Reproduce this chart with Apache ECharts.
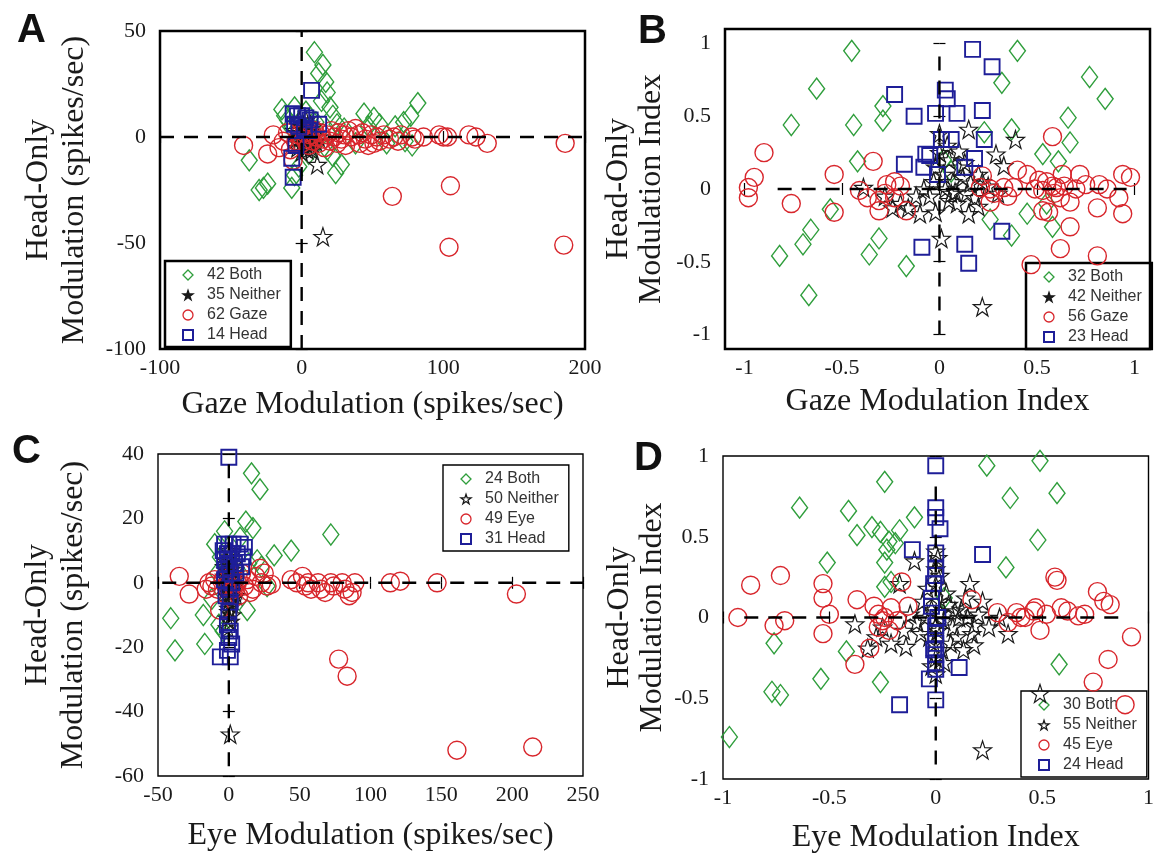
<!DOCTYPE html>
<html>
<head>
<meta charset="utf-8">
<script src="https://cdn.jsdelivr.net/npm/echarts@6/dist/echarts.min.js"></script>
<style>
html,body{margin:0;padding:0;background:#fff;}
#chart{width:1157px;height:857px;}
</style>
</head>
<body>
<div id="chart"></div>
<script>
// ---------- Panel A : Gaze vs Head-only modulation (spikes/sec) ----------
const aBoth = [[9,40],[15,34],[12,30],[17,26],[18,21],[14,17],[20,14],[-14,13],[-12,10],[-10,8],[-8,5],[-5,14],[3,12],[6,9],[10,7],[22,10],[25,6],[30,4],[44,11],[51,9],[47,5],[55,6],[66,5],[72,7],[77,10],[82,16],[78,-4],[73,-2],[60,-3],[38,-3],[-37,-11],[-27,-24],[-24,-22],[-30,-25],[-7,-24],[-5,-18],[24,-17],[22,-9],[18,-6],[-2,-14],[28,-13],[5,-8]];
const aNeither = [[11,-13],[15,-47],[0,2],[1,-1],[2,3],[-1,0],[3,-2],[4,1],[-2,-3],[5,4],[6,-1],[-3,2],[7,2],[8,-3],[2,-5],[-4,-1],[1,6],[3,8],[-1,5],[4,-6],[6,6],[0,-7],[9,1],[10,-2],[-5,3],[2,0],[5,-4],[7,-6],[-2,8],[8,5],[1,-3],[3,4],[-3,-5],[6,2],[12,0]];
const aGaze = [[-41,-4],[-24,-8],[-20,1],[-16,-5],[-13,-2],[-10,2],[-8,-6],[-6,-11],[-4,-2],[-2,1],[0,-3],[2,2],[3,-1],[5,-4],[6,1],[8,-2],[9,3],[10,0],[12,-3],[13,2],[15,-1],[16,-5],[18,1],[20,-2],[21,3],[23,0],[25,-3],[26,2],[28,-1],[30,1],[31,-4],[33,3],[35,0],[38,4],[40,1],[41,-3],[43,2],[45,-1],[47,-4],[49,1],[51,-3],[53,0],[55,-2],[58,1],[62,-1],[64,-28],[65,0],[68,-2],[70,1],[78,0],[80,-1],[86,0],[97,1],[100,0],[103,0],[105,-23],[104,-52],[118,1],[123,0],[131,-3],[186,-3],[185,-51]];
const aHead = [[7,22],[-6,11],[-3,10],[0,10],[3,9],[6,8],[-5,6],[-2,5],[2,4],[5,3],[12,6],[-4,-4],[-7,-10],[-6,-19]];
const aZeroH = [-100, 200];   // horizontal dashed line extent (x)
const aZeroV = [-100, 50];    // vertical dashed line extent (y)

// ---------- Panel B : Gaze vs Head-only modulation index ----------
const bBoth = [[-0.45,0.95],[-0.63,0.69],[-0.76,0.44],[-0.44,0.44],[-0.29,0.57],[-0.29,0.47],[-0.42,0.19],[0.4,0.95],[0.32,0.73],[0.77,0.77],[0.85,0.62],[0.66,0.49],[0.67,0.32],[0.53,0.24],[0.37,0.41],[0.23,0.39],[-0.56,-0.14],[-0.66,-0.28],[-0.70,-0.38],[-0.82,-0.46],[-0.31,-0.34],[-0.36,-0.45],[-0.17,-0.53],[-0.67,-0.73],[0.26,-0.21],[0.37,-0.32],[0.45,-0.17],[0.58,-0.26],[0.55,-0.1],[0.61,0.19],[0.02,0.2],[0.06,0.12]];
const bNeither = [[0.15,0.41],[0.39,0.34],[0.29,0.24],[0.33,0.16],[-0.39,0.01],[-0.16,-0.13],[-0.1,-0.17],[-0.02,-0.16],[0.15,-0.17],[0.01,-0.34],[0.22,-0.81],[0,0.38],[-0.2,-0.1],[-0.12,-0.05],[0.09,-0.1],[0.14,-0.03],[0.25,0.02],[0.05,0.2],[0.1,0.15],[0.02,0.1],[0.07,0.05],[0.12,0.08],[0.03,0],[-0.03,0.05],[0.08,-0.02],[0.16,0.04],[0.2,0.1],[-0.05,-0.05],[0,0.25],[0.1,0.26],[0.18,-0.06],[-0.08,0],[0.05,-0.08],[0.2,-0.12],[-0.24,-0.13],[0.04,0.3],[0.13,0.18],[-0.02,0.15],[0.22,0.05],[0.06,-0.03],[-0.28,-0.05],[0.3,-0.03]];
const bGaze = [[-0.98,0.01],[-0.98,-0.06],[-0.95,0.08],[-0.9,0.25],[-0.76,-0.1],[-0.54,-0.16],[-0.54,0.1],[-0.34,0.19],[-0.41,-0.01],[-0.37,-0.06],[-0.31,-0.15],[-0.27,0.03],[-0.23,0.05],[-0.31,-0.08],[-0.28,-0.03],[-0.17,-0.15],[-0.23,-0.06],[0.22,0.09],[0.21,0.01],[0.26,0],[0.26,-0.09],[0.33,0.01],[0.4,0.13],[0.38,0.01],[0.58,0.36],[0.51,0.06],[0.49,0],[0.53,-0.01],[0.58,0.02],[0.59,-0.03],[0.63,0.1],[0.62,-0.06],[0.67,-0.09],[0.72,0.1],[0.75,0.03],[0.82,0.03],[0.81,-0.13],[0.92,-0.06],[0.94,-0.17],[0.94,0.1],[0.98,0.08],[0.67,-0.26],[0.62,-0.41],[0.81,-0.46],[0.47,-0.52],[0.56,-0.16],[0.53,-0.15],[0.6,0.01],[0.45,0.1],[0.28,-0.03],[0.55,0.05],[0.64,0.02],[0.7,0],[0.86,0],[-0.2,0.02],[0.35,-0.05]];
const bHead = [[0.17,0.96],[0.27,0.84],[-0.23,0.65],[0.03,0.68],[0.04,0.62],[-0.13,0.5],[-0.02,0.52],[0.09,0.52],[0.22,0.54],[0.01,0.34],[0.06,0.34],[0.23,0.34],[-0.18,0.17],[-0.07,0.24],[-0.08,0.15],[-0.01,0.1],[0.13,0.15],[0.18,0.21],[0.32,-0.29],[-0.09,-0.4],[0.13,-0.38],[0.15,-0.51],[-0.05,0.23]];
const bZeroH = [-0.83, 0.96];
const bZeroV = [-1.0, 0.93];

// ---------- Panel C : Eye vs Head-only modulation (spikes/sec) ----------
const cBoth = [[16,34],[22,29],[12,19],[17,17],[-10,12],[-6,8],[-3,16],[32,8.5],[44,10],[72,15],[-41,-11],[-38,-21],[-18,-10],[-17,-19],[13,-8.5],[-7,-13],[20,7],[23,5],[27,-1],[-8,3],[8,14],[14,6],[-12,-5],[-4,-15]];
const cNeither = [[1,-47],[0,-9],[2,-10],[-1,-11],[1,-12],[0,-8],[-1,-14],[0,0],[1,2],[-1,1],[2,-1],[3,3],[-2,-2],[0,4],[4,1],[-3,2],[1,-3],[2,5],[5,-2],[-1,6],[3,-4],[0,8],[-2,4],[4,4],[1,-5],[-3,-1],[2,1],[5,2],[0,-2],[-1,3],[3,0],[1,7],[-2,0],[4,-1],[2,-3],[0,2],[1,4],[3,6],[-1,-4],[2,9],[0,-6],[4,3],[-3,5],[1,1],[5,-4],[-2,7],[3,-2],[0,10],[2,-6],[-1,-1]];
const cEye = [[-35,2],[-28,-3.5],[-14,0],[-12,-1],[-10,1],[-8,-2],[-6.5,-8.5],[-4,1],[-2,-1],[2,2],[4,-2],[6,0],[9,3],[11,-1],[13,1],[15,-3],[17,-2],[19,2],[22,4.5],[23,0],[27,-1],[30,-0.5],[44,1],[48,0],[52,2],[54,-1],[56,0],[58,-2],[63,0],[65,-2],[68,-3],[72,0],[74,-1],[80,0],[82,-2],[85,-4],[87,-3],[89,0],[114,0],[121,0.5],[147,0],[203,-3.5],[77.5,-23.7],[83.5,-29],[161,-52],[214.5,-51],[-16,-2],[7,-4],[25,3]];
const cHead = [[0,39],[-3,12],[0,12],[3,12],[8,12],[11,11],[-4,10],[-1,9],[2,9],[6,9],[10,8],[-3,7],[0,6],[4,6],[9,5],[-2,4],[1,3],[5,3],[-3,1],[2,0],[0,-2],[-2,-4],[1,-6],[0,-9],[-1,-13],[1,-15],[0,-17],[2,-19],[-6,-23],[1,-23],[-1,-21]];
const cZeroH = [-47, 250];
const cZeroV = [-57, 40];

// ---------- Panel D : Eye vs Head-only modulation index ----------
const dBoth = [[-0.97,-0.74],[-0.64,0.68],[-0.41,0.66],[-0.37,0.51],[-0.30,0.56],[-0.26,0.53],[-0.24,0.84],[-0.10,0.62],[-0.17,0.54],[-0.22,0.47],[-0.23,0.42],[-0.24,0.34],[-0.24,0.19],[-0.51,0.34],[-0.76,-0.16],[-0.77,-0.46],[-0.73,-0.48],[-0.54,-0.38],[-0.42,-0.21],[-0.26,-0.40],[0.24,0.94],[0.49,0.97],[0.35,0.74],[0.57,0.77],[0.48,0.48],[0.33,0.31],[0.58,-0.29],[0.04,0.12],[-0.21,0.22],[-0.19,0.46]];
const dNeither = [[-0.10,0.35],[-0.17,0.21],[0.16,0.21],[-0.38,-0.04],[-0.32,-0.19],[-0.21,-0.16],[-0.14,-0.18],[0.18,-0.17],[0.34,-0.10],[0.49,-0.47],[0.22,-0.82],[0,0.41],[0.15,0],[0.18,-0.05],[0.09,0.04],[-0.09,-0.03],[0,-0.35],[0,0.3],[0,0.2],[0.02,0.1],[-0.02,0.05],[0.04,-0.02],[0.01,-0.08],[-0.03,-0.12],[0.03,-0.2],[0,-0.25],[0.06,0.08],[-0.05,0],[0.08,-0.06],[0.12,0.05],[0.2,0.02],[0.25,-0.06],[-0.12,0.02],[-0.15,-0.08],[-0.07,-0.1],[0.1,-0.12],[0.14,0.12],[0.05,0.15],[-0.04,0.18],[0.02,0.26],[0,-0.05],[0.02,0.03],[-0.01,-0.16],[0.01,0.37],[-0.02,-0.3],[0.22,0.1],[0.3,0],[-0.25,-0.06],[-0.28,-0.12],[0.07,-0.16],[0.11,0],[-0.06,0.1],[0.04,-0.28],[0.17,-0.1],[0.13,-0.2]];
const dEye = [[-0.93,0],[-0.87,0.2],[-0.73,0.26],[-0.76,-0.05],[-0.71,-0.02],[-0.53,0.21],[-0.53,0.12],[-0.5,0.02],[-0.53,-0.1],[-0.37,0.11],[-0.38,-0.29],[-0.31,-0.19],[-0.29,0.07],[-0.27,0.02],[-0.27,-0.06],[-0.25,-0.02],[-0.21,0.06],[-0.18,-0.02],[-0.13,0.07],[-0.16,0.22],[0.17,0.11],[0.29,0.03],[0.34,-0.03],[0.38,0.03],[0.42,0],[0.46,0.04],[0.47,0.06],[0.49,-0.08],[0.57,0.23],[0.56,0.25],[0.59,0.06],[0.62,0.04],[0.67,0.01],[0.76,0.16],[0.79,0.1],[0.82,0.08],[0.92,-0.12],[0.81,-0.26],[0.74,-0.4],[0.89,-0.54],[-0.24,0],[0.4,0],[0.52,0.02],[0.7,0.02],[-0.22,-0.08]];
const dHead = [[0,0.94],[0,0.68],[0,0.62],[0.02,0.55],[0,0.4],[0,0.26],[-0.01,0.21],[-0.02,0.12],[-0.02,0.07],[0,-0.05],[0,-0.1],[0,-0.16],[0,-0.23],[0,-0.28],[0,-0.32],[-0.03,-0.38],[0,-0.51],[-0.11,0.42],[0.22,0.39],[0.11,-0.31],[-0.17,-0.54],[0,0.3],[0.01,0],[-0.01,-0.2]];
const dZeroH = [-0.9, 0.9];
const dZeroV = [-0.91, 0.84];

// ---------- Tick labels ----------
const indexTicks = [-1, -0.5, 0, 0.5, 1];

// ---------- styling ----------
const GREEN = '#2f9e3c', RED = '#d8262c', BLUE = '#1e1e98', BLACK = '#1a1a1a';
const SERIF = '"Liberation Serif", "Times New Roman", serif';
const SANS = '"Liberation Sans", Arial, sans-serif';

function starPath() {
  const pts = [];
  for (let i = 0; i < 10; i++) {
    const r = i % 2 === 0 ? 10 : 3.9;
    const a = -Math.PI / 2 + i * Math.PI / 5;
    pts.push((r * Math.cos(a)).toFixed(2) + ',' + (r * Math.sin(a)).toFixed(2));
  }
  return 'path://M' + pts.join('L') + 'Z';
}
const STAR = starPath();

const kinds = {
  both:    {symbol: 'diamond', size: [16, 21], color: GREEN, bw: 1.4, z: 2},
  neither: {symbol: STAR, size: 18, color: BLACK, bw: 1.2, z: 3},
  main:    {symbol: 'circle', size: 18, color: RED, bw: 1.4, z: 4},
  head:    {symbol: 'rect', size: 15, color: BLUE, bw: 1.9, z: 5}
};

function scatter(name, data, gi, kind) {
  const k = kinds[kind];
  return {
    name: name, type: 'scatter', xAxisIndex: gi * 2, yAxisIndex: gi * 2,
    data: data, symbol: k.symbol, symbolSize: k.size, z: k.z,
    itemStyle: {color: 'rgba(255,255,255,0)', borderColor: k.color, borderWidth: k.bw, opacity: 1},
    emphasis: {disabled: true}, silent: true
  };
}
function zeroLines(gi, hExt, vExt) {
  const common = {
    type: 'line', xAxisIndex: gi * 2, yAxisIndex: gi * 2, showSymbol: false, symbol: 'none',
    silent: true, z: 8, lineStyle: {color: '#000', width: 2.4, type: [14, 10]}, animation: false
  };
  return [
    Object.assign({}, common, {data: [[hExt[0], 0], [hExt[1], 0]]}),
    Object.assign({}, common, {data: [[0, vExt[0]], [0, vExt[1]]]})
  ];
}

const panels = [
  {grid: {left: 160, top: 31, width: 425, height: 318}, bw: 2.5,
   x: {min: -100, max: 200, interval: 100}, y: {min: -100, max: 50, interval: 50},
   xName: 'Gaze Modulation (spikes/sec)', xGap: 40, yName: 'Head-Only\nModulation (spikes/sec)', yGap: 67, yLH: 36,
   series: [['42 Both', aBoth, 'both'], ['35 Neither', aNeither, 'neither'], ['62 Gaze', aGaze, 'main'], ['14 Head', aHead, 'head']],
   zero: [aZeroH, aZeroV], filledStar: true,
   legend: {left: 165, top: 261}},
  {grid: {left: 725, top: 29, width: 425, height: 320}, bw: 2.5,
   x: {min: -1.1, max: 1.08, custom: indexTicks}, y: {min: -1.1, max: 1.1, custom: indexTicks},
   xName: 'Gaze Modulation Index', xGap: 37, yName: 'Head-Only\nModulation Index', yGap: 57, yLH: 33,
   series: [['32 Both', bBoth, 'both'], ['42 Neither', bNeither, 'neither'], ['56 Gaze', bGaze, 'main'], ['23 Head', bHead, 'head']],
   zero: [bZeroH, bZeroV], filledStar: true,
   legend: {left: 1026, top: 263}},
  {grid: {left: 158, top: 454, width: 425, height: 322}, bw: 1.4,
   x: {min: -50, max: 250, interval: 50}, y: {min: -60, max: 40, interval: 20},
   xName: 'Eye Modulation (spikes/sec)', xGap: 44, yName: 'Head-Only\nModulation (spikes/sec)', yGap: 66, yLH: 36,
   series: [['24 Both', cBoth, 'both'], ['50 Neither', cNeither, 'neither'], ['49 Eye', cEye, 'main'], ['31 Head', cHead, 'head']],
   zero: [cZeroH, cZeroV], filledStar: false,
   legend: {left: 443, top: 465}},
  {grid: {left: 723, top: 456, width: 427, height: 323}, bw: 1.4,
   x: {min: -1, max: 1, interval: 0.5}, y: {min: -1, max: 1, interval: 0.5},
   xName: 'Eye Modulation Index', xGap: 43, yName: 'Head-Only\nModulation Index', yGap: 54, yLH: 33,
   series: [['30 Both', dBoth, 'both'], ['55 Neither', dNeither, 'neither'], ['45 Eye', dEye, 'main'], ['24 Head', dHead, 'head']],
   zero: [dZeroH, dZeroV], filledStar: false,
   legend: {left: 1021, top: 691}}
];

const grids = [], xAxes = [], yAxes = [], series = [], legends = [];
panels.forEach((p, gi) => {
  grids.push(Object.assign({show: true, borderColor: '#000', borderWidth: p.bw, backgroundColor: 'rgba(0,0,0,0)'}, p.grid));
  const tick = {inside: true, length: 6, lineStyle: {color: '#000', width: 1.2}};
  const labX = {fontFamily: SERIF, fontSize: 22, color: '#1a1a1a', margin: 8};
  const labY = {fontFamily: SERIF, fontSize: 22, color: '#1a1a1a', margin: 14};
  function axis(spec, lab, extra) {
    const a = {type: 'value', gridIndex: gi, min: spec.min, max: spec.max,
      axisLine: {show: false}, splitLine: {show: false},
      axisTick: Object.assign({}, tick), axisLabel: Object.assign({}, lab)};
    if (spec.interval !== undefined) a.interval = spec.interval;
    if (spec.custom) { a.axisTick.customValues = spec.custom; a.axisLabel.customValues = spec.custom; }
    return Object.assign(a, extra);
  }
  xAxes.push(axis(p.x, labX, {position: 'bottom', name: p.xName, nameLocation: 'middle', nameGap: p.xGap,
    nameTextStyle: {fontFamily: SERIF, fontSize: 32, color: '#1a1a1a'}}));
  const xt = axis(p.x, labX, {position: 'top'}); xt.axisLabel = {show: false};
  xAxes.push(xt);
  yAxes.push(axis(p.y, labY, {position: 'left', name: p.yName, nameLocation: 'middle', nameGap: p.yGap, nameRotate: 90,
    nameTextStyle: {fontFamily: SERIF, fontSize: 32, color: '#1a1a1a', lineHeight: p.yLH}}));
  const yt = axis(p.y, labY, {position: 'right'}); yt.axisLabel = {show: false};
  yAxes.push(yt);

  const legendData = [];
  p.series.forEach(s => {
    series.push(scatter(s[0], s[1], gi, s[2]));
    const k = kinds[s[2]];
    const filled = (s[2] === 'neither' && p.filledStar);
    legendData.push({name: s[0], icon: k.symbol,
      itemStyle: {color: filled ? BLACK : 'rgba(255,255,255,0)', borderColor: k.color, borderWidth: s[2] === 'head' ? 2 : 1.3}});
  });
  zeroLines(gi, p.zero[0], p.zero[1]).forEach(l => series.push(l));
  legends.push({show: true, orient: 'vertical', left: p.legend.left, top: p.legend.top, z: 1,
    data: legendData, itemWidth: 10, itemHeight: 10, itemGap: 4,
    padding: [6, 10, 4, 17], borderColor: '#000', borderWidth: p.bw >= 2 ? 2.5 : 1.4,
    backgroundColor: 'rgba(255,255,255,0)', selectedMode: false,
    textStyle: {fontFamily: SANS, fontSize: 16, color: '#333', lineHeight: 16, padding: [0, 0, 0, 9]}});
});

const letters = [['A', 17, 11], ['B', 638, 12], ['C', 12, 432], ['D', 634, 439]];
const graphic = letters.map(l => ({type: 'text', left: l[1], top: l[2], z: 20,
  style: {text: l[0], font: 'bold 40px ' + SANS, fill: '#111'}}));

const chart = echarts.init(document.getElementById('chart'), null, {renderer: 'canvas'});
chart.setOption({
  animation: false,
  backgroundColor: '#fff',
  grid: grids, xAxis: xAxes, yAxis: yAxes, series: series, legend: legends, graphic: graphic
});
</script>
</body>
</html>
